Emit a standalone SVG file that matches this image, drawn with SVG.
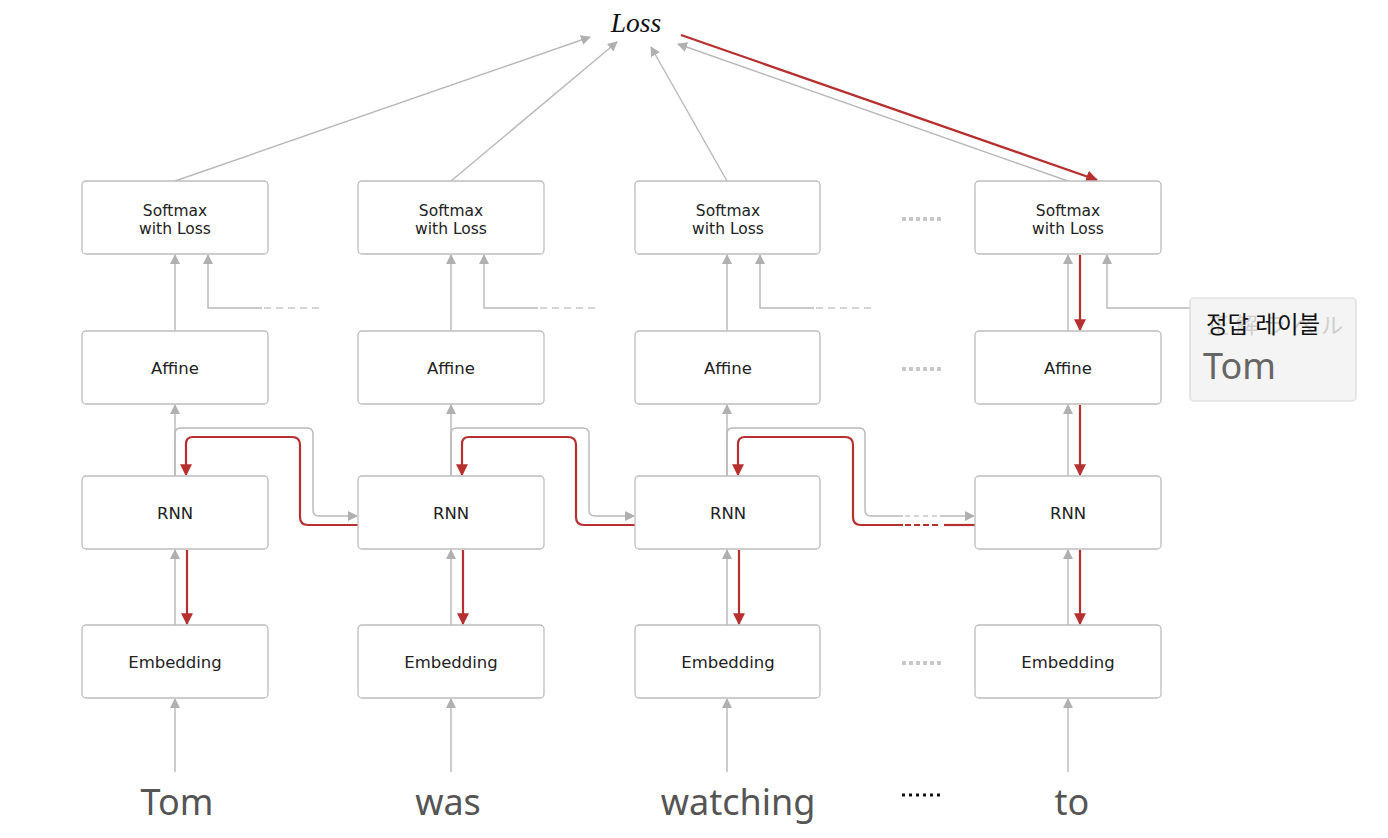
<svg xmlns="http://www.w3.org/2000/svg" width="1388" height="838" viewBox="0 0 1388 838">
<style>
.box{fill:#fff;stroke:#bdbdbd;stroke-width:1.3}
.lbl{font-family:"DejaVu Sans","Liberation Sans",sans-serif;font-size:16.5px;fill:#222;text-anchor:middle}
.sm{font-size:15.5px}
.g{fill:none;stroke:#b8b8b8;stroke-width:1.4}
.r{fill:none;stroke:#b5302f;stroke-width:2.2}
.gd{fill:none;stroke:#c8c8c8;stroke-width:1.4;stroke-dasharray:7 5}
.dots{fill:none;stroke:#c8c8c8;stroke-width:4;stroke-dasharray:4 3}
.word{font-family:"Noto Sans","Liberation Sans",sans-serif;font-size:36px;fill:#555;text-anchor:middle}
</style>
<defs>
<marker id="ag" viewBox="0 0 10 10" refX="9" refY="5" markerWidth="10" markerHeight="10" markerUnits="userSpaceOnUse" orient="auto"><path d="M0,0L10,5L0,10z" fill="#b0b0b0"/></marker>
<marker id="ar" viewBox="0 0 10 10" refX="9" refY="5" markerWidth="12" markerHeight="12" markerUnits="userSpaceOnUse" orient="auto"><path d="M0,0L10,5L0,10z" fill="#b5302f"/></marker>
</defs>
<text x="636" y="32" font-family="'Liberation Serif',serif" font-style="italic" font-size="27.5" text-anchor="middle" fill="#111">Loss</text>
<g id="connectors">
<path class="g" d="M175,181L590,37" marker-end="url(#ag)"/>
<path class="g" d="M451,181L617,42" marker-end="url(#ag)"/>
<path class="g" d="M727,181L651,47" marker-end="url(#ag)"/>
<path class="g" d="M1068,181L678,44" marker-end="url(#ag)"/>
<path class="r" d="M681,35L1097,180" marker-end="url(#ar)"/>
<path class="g" d="M175,331V255" marker-end="url(#ag)"/>
<path class="g" d="M451,331V255" marker-end="url(#ag)"/>
<path class="g" d="M727,331V255" marker-end="url(#ag)"/>
<path class="g" d="M1068,331V255" marker-end="url(#ag)"/>
<path class="r" d="M1080,255V330" marker-end="url(#ar)"/>
<path class="g" d="M262,308H208V255" marker-end="url(#ag)"/>
<path class="gd" d="M264,308H320"/>
<path class="g" d="M538,308H484V255" marker-end="url(#ag)"/>
<path class="gd" d="M540,308H596"/>
<path class="g" d="M814,308H760V255" marker-end="url(#ag)"/>
<path class="gd" d="M816,308H872"/>
<path class="g" d="M1190,308H1107V255" marker-end="url(#ag)"/>
<path class="g" d="M175,476V405" marker-end="url(#ag)"/>
<path class="g" d="M451,476V405" marker-end="url(#ag)"/>
<path class="g" d="M727,476V405" marker-end="url(#ag)"/>
<path class="g" d="M1068,476V405" marker-end="url(#ag)"/>
<path class="r" d="M1080,405V475" marker-end="url(#ar)"/>
<path class="g" d="M175,476V434Q175,428 181,428H307Q313,428 313,434V510Q313,516 319,516H357" marker-end="url(#ag)"/>
<path class="g" d="M451,476V434Q451,428 457,428H583Q589,428 589,434V510Q589,516 595,516H634" marker-end="url(#ag)"/>
<path class="g" d="M727,476V434Q727,428 733,428H859Q865,428 865,434V510Q865,516 871,516H903"/>
<path class="gd" d="M905,516H938" style="stroke-dasharray:5 4"/>
<path class="g" d="M940,516H974" marker-end="url(#ag)"/>
<path class="r" d="M358,525H308Q300,525 300,517V445Q300,437 292,437H193Q186,437 186,444V475" marker-end="url(#ar)"/>
<path class="r" d="M635,525H584Q576,525 576,517V445Q576,437 568,437H469Q462,437 462,444V475" marker-end="url(#ar)"/>
<path class="r" d="M975,525H944"/>
<path class="r" d="M938,525H903" style="stroke-dasharray:6 3"/>
<path class="r" d="M903,525H861Q853,525 853,517V445Q853,437 845,437H745Q738,437 738,444V475" marker-end="url(#ar)"/>
<path class="g" d="M175,625V550" marker-end="url(#ag)"/>
<path class="g" d="M451,625V550" marker-end="url(#ag)"/>
<path class="g" d="M727,625V550" marker-end="url(#ag)"/>
<path class="g" d="M1068,625V550" marker-end="url(#ag)"/>
<path class="r" d="M187,550V624" marker-end="url(#ar)"/>
<path class="r" d="M463,550V624" marker-end="url(#ar)"/>
<path class="r" d="M739,550V624" marker-end="url(#ar)"/>
<path class="r" d="M1080,550V624" marker-end="url(#ar)"/>
<path class="g" d="M175,772V699" marker-end="url(#ag)"/>
<path class="g" d="M451,772V699" marker-end="url(#ag)"/>
<path class="g" d="M727,772V699" marker-end="url(#ag)"/>
<path class="g" d="M1068,772V699" marker-end="url(#ag)"/>
</g>
<g id="softmax1"><rect class="box" x="82" y="181" width="186" height="73" rx="4"/><text class="lbl sm" x="175" y="216">Softmax</text><text class="lbl sm" x="175" y="234">with Loss</text></g>
<g id="softmax2"><rect class="box" x="358" y="181" width="186" height="73" rx="4"/><text class="lbl sm" x="451" y="216">Softmax</text><text class="lbl sm" x="451" y="234">with Loss</text></g>
<g id="softmax3"><rect class="box" x="635" y="181" width="185" height="73" rx="4"/><text class="lbl sm" x="728" y="216">Softmax</text><text class="lbl sm" x="728" y="234">with Loss</text></g>
<g id="softmax4"><rect class="box" x="975" y="181" width="186" height="73" rx="4"/><text class="lbl sm" x="1068" y="216">Softmax</text><text class="lbl sm" x="1068" y="234">with Loss</text></g>
<g id="affine1"><rect class="box" x="82" y="331" width="186" height="73" rx="4"/><text class="lbl" x="175" y="374">Affine</text></g>
<g id="affine2"><rect class="box" x="358" y="331" width="186" height="73" rx="4"/><text class="lbl" x="451" y="374">Affine</text></g>
<g id="affine3"><rect class="box" x="635" y="331" width="185" height="73" rx="4"/><text class="lbl" x="728" y="374">Affine</text></g>
<g id="affine4"><rect class="box" x="975" y="331" width="186" height="73" rx="4"/><text class="lbl" x="1068" y="374">Affine</text></g>
<g id="rnn1"><rect class="box" x="82" y="476" width="186" height="73" rx="4"/><text class="lbl" x="175" y="519">RNN</text></g>
<g id="rnn2"><rect class="box" x="358" y="476" width="186" height="73" rx="4"/><text class="lbl" x="451" y="519">RNN</text></g>
<g id="rnn3"><rect class="box" x="635" y="476" width="185" height="73" rx="4"/><text class="lbl" x="728" y="519">RNN</text></g>
<g id="rnn4"><rect class="box" x="975" y="476" width="186" height="73" rx="4"/><text class="lbl" x="1068" y="519">RNN</text></g>
<g id="emb1"><rect class="box" x="82" y="625" width="186" height="73" rx="4"/><text class="lbl" x="175" y="668">Embedding</text></g>
<g id="emb2"><rect class="box" x="358" y="625" width="186" height="73" rx="4"/><text class="lbl" x="451" y="668">Embedding</text></g>
<g id="emb3"><rect class="box" x="635" y="625" width="185" height="73" rx="4"/><text class="lbl" x="728" y="668">Embedding</text></g>
<g id="emb4"><rect class="box" x="975" y="625" width="186" height="73" rx="4"/><text class="lbl" x="1068" y="668">Embedding</text></g>
<g id="ellipses">
<path class="dots" d="M902,219H941"/>
<path class="dots" d="M902,369H941"/>
<path class="dots" d="M902,663H941"/>
<path d="M902,795H941" fill="none" stroke="#111" stroke-width="3" stroke-dasharray="3 4"/>
</g>
<g id="words">
<text class="word" x="177" y="815">Tom</text>
<text class="word" x="448" y="815">was</text>
<text class="word" x="738" y="815">watching</text>
<text class="word" x="1072" y="815">to</text>
</g>
<g id="label">
<rect x="1190" y="298" width="166" height="103" rx="4" fill="#f4f4f4" stroke="#d8d8d8" stroke-width="1.2"/>
<text x="1207" y="333" font-family="'Noto Sans CJK JP',sans-serif" font-size="22" fill="#cfcfcf" textLength="136" lengthAdjust="spacing">正解ラベル</text>
<text x="1206" y="333" font-family="'Noto Sans','Noto Sans CJK KR',sans-serif" font-size="23.5" fill="#111">정답 레이블</text>
<text x="1203" y="379" font-family="'Noto Sans','Liberation Sans',sans-serif" font-size="36" fill="#666">Tom</text>
</g>
</svg>
